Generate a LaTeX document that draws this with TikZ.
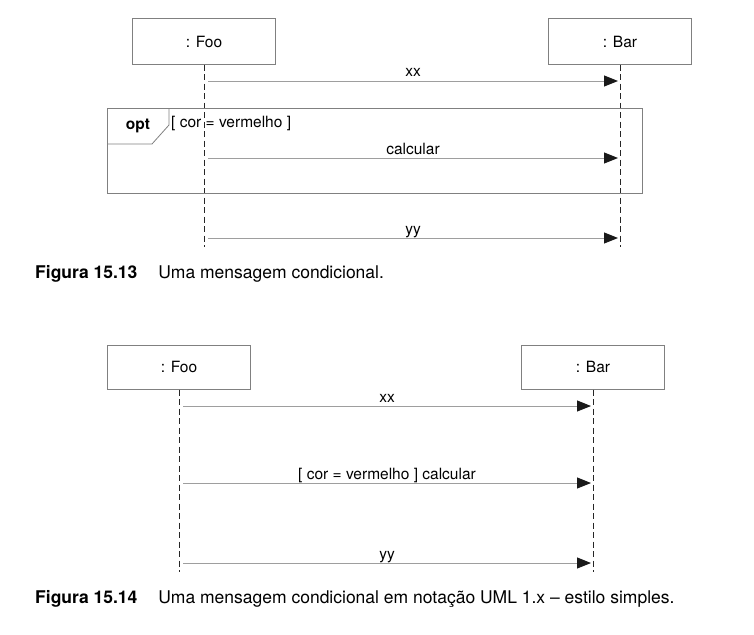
\documentclass[tikz,border=0pt]{standalone}
\usepackage{fontspec}
\setmainfont{TeX Gyre Heros}
\usetikzlibrary{arrows.meta,positioning}
\definecolor{boxgray}{gray}{0.5}
\definecolor{msggray}{gray}{0.62}
\newcommand{\diagfont}{\fontsize{15.5}{18}\selectfont}
\newcommand{\capfont}{\fontsize{17.5}{21}\selectfont}
\tikzset{objbox/.style={draw=boxgray, line width=1pt, minimum width=143pt, minimum height=45pt, inner sep=0pt, font=\diagfont}}
\tikzset{lifeline/.style={draw=black!85, line width=0.9pt, dash pattern=on 6pt off 3.5pt}}
\tikzset{msg/.style={draw=msggray, line width=1pt, -{Triangle[length=14pt,width=11pt,color=black!90]}}}
\tikzset{lbl/.style={anchor=base, inner sep=0pt, yshift=4pt, font=\diagfont}}
\tikzset{caption/.style={anchor=base west, inner sep=0pt, font=\capfont}}

\begin{document}
\begin{tikzpicture}[x=1pt, y=-1pt]
		\useasboundingbox (0,0) rectangle (754,634);
		
		% Figura 15.13
		\node[objbox] (foo1) at (204,41.5){: Foo};
		\node[objbox] (bar1) at (620,41.5){: Bar};
		\coordinate (foo1end) at (204,247);
		\coordinate (bar1end) at (620,247);
		\draw[lifeline] (foo1.south) -- (foo1end);
		\draw[lifeline] (bar1.south) -- (bar1end);
		
		\draw[draw=boxgray, line width=1pt] (107,108) rectangle (642,193);
		\draw[draw=boxgray, line width=0.8pt] (107,144) -- (152,144) -- (169,125) -- (169,108);
		\node[anchor=base, inner sep=0pt, font=\diagfont\bfseries] (opt) at (138,129){opt};
		\node[anchor=base west, inner sep=0pt, font=\diagfont] (guard) at (171,127){[ cor = vermelho ]};
		
		\coordinate (xxa) at (208,81);
		\coordinate (xxb) at (618,81);
		\coordinate (cala) at (208,158);
		\coordinate (calb) at (618,158);
		\coordinate (yya) at (208,238);
		\coordinate (yyb) at (618,238);
		\draw[msg] (xxa) -- node[lbl]{xx} (xxb);
		\draw[msg] (cala) -- node[lbl]{calcular} (calb);
		\draw[msg] (yya) -- node[lbl]{yy} (yyb);
		
		\node[caption] (cap1) at (35,278){\textbf{Figura 15.13}\hspace{21pt}Uma mensagem condicional.};
		
		% Figura 15.14
		\node[objbox, minimum height=44pt] (foo2) at (179,367){: Foo};
		\node[objbox, minimum height=44pt] (bar2) at (593,367){: Bar};
		\coordinate (foo2end) at (179,572);
		\coordinate (bar2end) at (593,572);
		\draw[lifeline] (foo2.south) -- (foo2end);
		\draw[lifeline] (bar2.south) -- (bar2end);
		
		\coordinate (xx2a) at (183,406);
		\coordinate (xx2b) at (591,406);
		\coordinate (cal2a) at (183,483);
		\coordinate (cal2b) at (591,483);
		\coordinate (yy2a) at (183,563);
		\coordinate (yy2b) at (591,563);
		\draw[msg] (xx2a) -- node[lbl]{xx} (xx2b);
		\draw[msg] (cal2a) -- node[lbl]{[ cor = vermelho ] calcular} (cal2b);
		\draw[msg] (yy2a) -- node[lbl]{yy} (yy2b);
		
		\node[caption] (cap2) at (35,603){\textbf{Figura 15.14}\hspace{21pt}Uma mensagem condicional em notação UML 1.x – estilo simples.};
	\end{tikzpicture}
\end{document}
